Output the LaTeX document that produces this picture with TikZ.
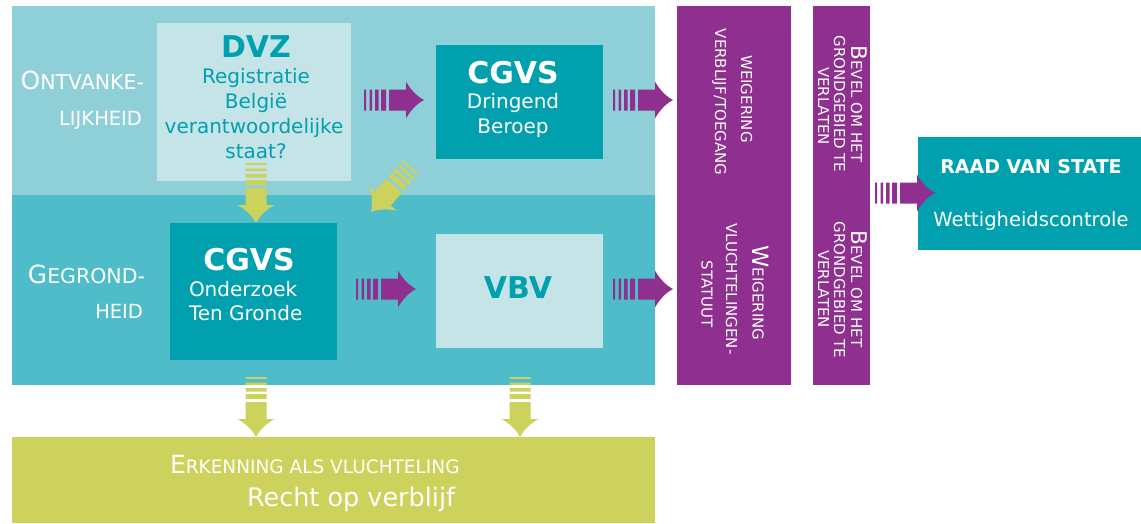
\documentclass[tikz,border=0pt]{standalone}
\usepackage{fontspec}
\setmainfont{DejaVu Sans}
\definecolor{bandtop}{HTML}{8ECFD8}
\definecolor{bandlow}{HTML}{4FBCC9}
\definecolor{lightbox}{HTML}{C5E4E8}
\definecolor{mteal}{HTML}{00A0AF}
\definecolor{mpurple}{HTML}{8F2F8F}
\definecolor{mgreen}{HTML}{CCD25B}
\newcommand\smc[4]{{\fontsize{#1}{#1}\selectfont #3}{\fontsize{#2}{#2}\selectfont #4}}
\newcommand\fs[1]{\fontsize{#1}{#1}\selectfont}
\tikzset{
  rect/.style={anchor=north west, inner sep=0pt, outer sep=0pt, draw=none},
  txt/.style={inner sep=0pt, outer sep=0pt, text=white},
  vtxt/.style={inner sep=0pt, outer sep=0pt, text=white, rotate=-90, anchor=base},
  pics/blockarrow/.style={code={
    \fill[#1] (0,-10.5) rectangle (2,10.5)
      (5.5,-10.5) rectangle (8,10.5)
      (11,-10.5) rectangle (14.5,10.5)
      (17,-10.5) rectangle (22,10.5)
      (25,-10.5) rectangle (42.5,10.5);
    \fill[#1] (42,-10.5) -- (42,-18.5) .. controls (46,-11) and (53,-3.5) .. (60,0)
      .. controls (53,3.5) and (46,11) .. (42,18.5) -- (42,10.5) -- cycle;
  }}
}
\begin{document}
\begin{tikzpicture}[x=1pt,y=-1pt]
\useasboundingbox (0,0) rectangle (1141,523);
% zones and boxes
\node[rect, fill=bandtop, minimum width=643pt, minimum height=189pt] (zone1) at (12,6) {};
\node[rect, fill=bandlow, minimum width=643pt, minimum height=190pt] (zone2) at (12,195) {};
\node[rect, fill=lightbox, minimum width=194pt, minimum height=158pt] (dvz) at (157,23) {};
\node[rect, fill=mteal, minimum width=167pt, minimum height=114pt] (cgvs1) at (436,45) {};
\node[rect, fill=mteal, minimum width=167pt, minimum height=137pt] (cgvs2) at (170,223) {};
\node[rect, fill=lightbox, minimum width=167pt, minimum height=114pt] (vbv) at (436,234) {};
\node[rect, fill=mpurple, minimum width=114pt, minimum height=379pt] (bar1) at (677,6) {};
\node[rect, fill=mpurple, minimum width=57pt, minimum height=379pt] (bar2) at (813,6) {};
\node[rect, fill=mteal, minimum width=223pt, minimum height=113pt] (raad) at (918,137) {};
\node[rect, fill=mgreen, minimum width=643pt, minimum height=86pt] (erk) at (12,437) {};
% arrows
\pic at (364,100) {blockarrow=mpurple};
\pic at (613,100) {blockarrow=mpurple};
\pic at (356,289) {blockarrow=mpurple};
\pic at (613,289) {blockarrow=mpurple};
\pic at (875,193) {blockarrow=mpurple};
\pic[rotate=-90] at (256,163) {blockarrow=mgreen};
\pic[rotate=228.5] at (410.7,167) {blockarrow=mgreen};
\pic[rotate=-90] at (256,377) {blockarrow=mgreen};
\pic[rotate=-90] at (520,377) {blockarrow=mgreen};
% left labels
\node[txt, anchor=base east] (l1a) at (144,89) {\smc{25}{20.5}{O}{NTVANKE-}};
\node[txt, anchor=base east] (l1b) at (142,125) {\fs{19.5}LIJKHEID};
\node[txt, anchor=base east] (l2a) at (145,283) {\smc{25}{20.5}{G}{EGROND-}};
\node[txt, anchor=base east] (l2b) at (143,318) {\fs{19.5}HEID};
% DVZ
\node[txt, text=mteal, anchor=base] (t1) at (256,57) {\fs{30}\bfseries DVZ};
\node[txt, text=mteal, anchor=base] (t2) at (256,83) {\fs{20}Registratie};
\node[txt, text=mteal, anchor=base] (t3) at (256,108) {\fs{20}België};
\node[txt, text=mteal, anchor=base] (t4) at (254,133) {\fs{20}verantwoordelijke};
\node[txt, text=mteal, anchor=base] (t5) at (256,158) {\fs{20}staat?};
% CGVS 1
\node[txt, anchor=base] (c1) at (513,83) {\fs{30}\bfseries CGVS};
\node[txt, anchor=base] (c2) at (513,108) {\fs{20}Dringend};
\node[txt, anchor=base] (c3) at (513,133) {\fs{20}Beroep};
% CGVS 2
\node[txt, anchor=base] (d1) at (249,270) {\fs{30}\bfseries CGVS};
\node[txt, anchor=base west] (d2) at (189,296) {\fs{20}Onderzoek};
\node[txt, anchor=base west] (d3) at (189,320) {\fs{20}Ten Gronde};
% VBV
\node[txt, text=mteal, anchor=base] (v1) at (518,298) {\fs{30}\bfseries VBV};
% bar 1
\node[vtxt] (b1a) at (741,99) {\fs{15}WEIGERING};
\node[vtxt] (b1b) at (715,102) {\fs{15}VERBLIJF/TOEGANG};
\node[vtxt] (b1c) at (752.7,293) {\smc{22.5}{15}{W}{EIGERING}};
\node[vtxt] (b1d) at (726,289) {\fs{15}VLUCHTELINGEN-};
\node[vtxt] (b1e) at (701.7,294) {\fs{15}STATUUT};
% bar 2
\node[vtxt] (b2a) at (851,104) {\smc{21.5}{15}{B}{EVEL OM HET}};
\node[vtxt] (b2b) at (834,104) {\fs{15}GRONDGEBIED TE};
\node[vtxt] (b2c) at (818,106) {\fs{15}VERLATEN};
\node[vtxt] (b2d) at (851,289) {\smc{21.5}{15}{B}{EVEL OM HET}};
\node[vtxt] (b2e) at (834,290) {\fs{15}GRONDGEBIED TE};
\node[vtxt] (b2f) at (818,289) {\fs{15}VERLATEN};
% Raad van State
\node[txt, anchor=base] (r1) at (1031,173) {\fs{19}\bfseries RAAD VAN STATE};
\node[txt, anchor=base] (r2) at (1031,226) {\fs{19.5}Wettigheidscontrole};
% bottom
\node[txt, anchor=base west] (e1) at (170,473) {\smc{25}{18.5}{E}{RKENNING ALS VLUCHTELING}};
\node[txt, anchor=base west] (e2) at (247,506) {\fs{25.5}Recht op verblijf};
\end{tikzpicture}
\end{document}
